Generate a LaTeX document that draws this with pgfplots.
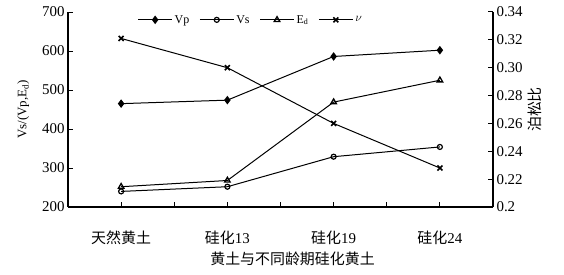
\documentclass[border=0pt]{standalone}
\usepackage{pgfplots}
\pgfplotsset{compat=1.18}
\usepackage{fontspec}
\setmainfont{Liberation Serif}
\newfontfamily\cjk{Noto Sans CJK SC}
\pgfplotsset{
  common/.style={
    scale only axis, width=425bp, height=195bp,
    at={(68bp,67bp)}, anchor=south west,
    xmin=-0.5, xmax=3.5,
    axis line style={-, line width=1.3bp},
    tick align=inside, major tick length=5bp,
    tick style={line width=1bp, black},
    /pgf/number format/assume math mode=true,
    ticklabel style={font=\fontsize{15}{16}\selectfont},
  },
  leg/.style={legend image code/.code={\draw[mark repeat=2,mark phase=2,#1] plot coordinates {(0bp,0bp)(17bp,0bp)(34bp,0bp)};}},
}
\begin{document}
\begin{tikzpicture}[x=1bp,y=1bp]
\useasboundingbox (0,0) rectangle (564,274);
\begin{axis}[common,
  ymin=200, ymax=700, ytick={200,300,...,700},
  axis x line*=bottom, axis y line*=left,
  xtick={0,1,2,3}, xticklabels={{\cjk 天然黄土},{\cjk 硅化}13,{\cjk 硅化}19,{\cjk 硅化}24},
  xticklabel style={yshift=-20bp},
  extra x ticks={0.5,1.5,2.5}, extra x tick labels={},
  xlabel={\cjk\fontsize{15}{16}\selectfont 黄土与不同龄期硅化黄土},
  xlabel style={xshift=12bp, yshift=-1bp},
  ylabel={\fontsize{13}{14}\selectfont Vs/(Vp,E\textsubscript{d})},
  ylabel style={yshift=6bp},
  legend style={draw=none, fill=none, legend columns=-1, at={(0.43,1.0)}, anchor=north,
    font=\fontsize{12}{13}\selectfont, inner sep=1bp,
    /tikz/every even column/.append style={column sep=8bp}},
  legend cell align=left,
]
\addplot[black, line width=1bp, mark=diamond*, mark size=3.5bp, mark options={fill=black}, leg] coordinates {(0,465) (1,474) (2,586) (3,602)};
\addlegendentry{Vp}
\addplot[black, line width=1bp, mark=o, mark size=2.5bp, mark options={line width=1.2bp}, leg] coordinates {(0,240) (1,252) (2,329) (3,354)};
\addlegendentry{Vs}
\addplot[black, line width=1bp, mark=triangle, mark size=3.2bp, mark options={line width=1.3bp}, leg] coordinates {(0,252) (1,268) (2,469) (3,525)};
\addlegendentry{E\textsubscript{d}}
\addlegendimage{black, line width=1bp, mark=x, mark size=3.5bp, mark options={line width=1.6bp}, leg}
\addlegendentry{$\nu$}
\end{axis}
\begin{axis}[common,
  ymin=0.2, ymax=0.34, ytick={0.2,0.22,0.24,0.26,0.28,0.30,0.32,0.34},
  yticklabels={0.2,0.22,0.24,0.26,0.28,0.30,0.32,0.34},
  axis x line=none, axis y line*=right,
  ylabel={\cjk\fontsize{15}{16}\selectfont 泊松比},
  ylabel style={yshift=2bp},
]
\addplot[black, line width=1bp, mark=x, mark size=3.5bp, mark options={line width=1.6bp}] coordinates {(0,0.321) (1,0.300) (2,0.260) (3,0.228)};
\end{axis}
\end{tikzpicture}
\end{document}
